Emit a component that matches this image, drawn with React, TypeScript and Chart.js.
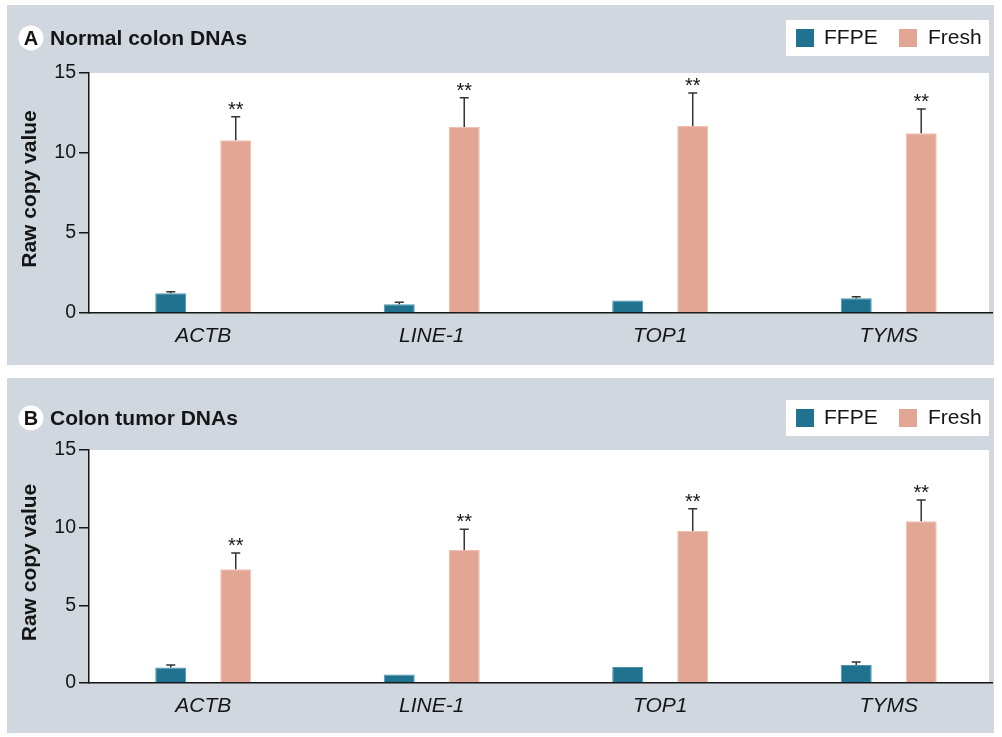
import React, { useEffect, useRef } from "react";
import { Chart, registerables } from "chart.js";

Chart.register(...registerables);

// ---- data ----
const categories = ["ACTB", "LINE-1", "TOP1", "TYMS"];
const seriesNames = ["FFPE", "Fresh"];
const yTickValues = [0, 5, 10, 15];
const significance = ["**", "**", "**", "**"];

const normalFFPE = [1.23, 0.54, 0.78, 0.92];
const normalFFPEErr = [0.1, 0.13, 0, 0.1];
const normalFresh = [10.8, 11.63, 11.69, 11.23];
const normalFreshErr = [1.47, 1.83, 2.06, 1.52];

const tumorFFPE = [0.99, 0.54, 1.03, 1.16];
const tumorFFPEErr = [0.17, 0, 0, 0.19];
const tumorFresh = [7.32, 8.56, 9.79, 10.41];
const tumorFreshErr = [1.05, 1.34, 1.43, 1.37];

// ---- styles ----
const COLORS = ["#1f7391", "#e3a694"];
const BORDERS = ["#4f93ad", "#efbfb1"];
const PANEL_BG = "#d0d7df";
const INK = "#151515";
const FONT = "'Liberation Sans', Arial, Helvetica, sans-serif";

type PanelProps = {
  top: number;
  height: number;
  letter: string;
  title: string;
  ffpe: number[];
  ffpeErr: number[];
  fresh: number[];
  freshErr: number[];
  panelTop: number;
  panelBottom: number;
  plotTop: number;
  plotBottom: number;
  titleY: number;
  legendY: number;
};

function Panel(p: PanelProps) {
  const ref = useRef<HTMLCanvasElement | null>(null);

  useEffect(() => {
    const canvas = ref.current;
    if (!canvas) return;
    const errs = [p.ffpeErr, p.freshErr];

    const decor = {
      id: "decor",
      beforeDraw(chart: any) {
        const ctx = chart.ctx;
        const a = chart.chartArea;
        ctx.save();
        ctx.fillStyle = PANEL_BG;
        ctx.fillRect(7, p.panelTop, 987, p.panelBottom - p.panelTop);
        ctx.fillStyle = "#ffffff";
        ctx.fillRect(a.left, a.top, a.right - 3 - a.left, a.bottom - a.top);
        ctx.restore();
      },
      afterDatasetsDraw(chart: any) {
        const ctx = chart.ctx;
        const yScale = chart.scales.y;
        ctx.save();
        chart.data.datasets.forEach((ds: any, di: number) => {
          const meta = chart.getDatasetMeta(di);
          meta.data.forEach((bar: any, i: number) => {
            const v = ds.data[i].y;
            const e = errs[di][i];
            const yTop = yScale.getPixelForValue(v + e);
            if (e > 0) {
              ctx.strokeStyle = "#333333";
              ctx.lineWidth = 1.5;
              ctx.beginPath();
              ctx.moveTo(bar.x, bar.y);
              ctx.lineTo(bar.x, yTop);
              ctx.moveTo(bar.x - 4.5, yTop);
              ctx.lineTo(bar.x + 4.5, yTop);
              ctx.stroke();
            }
            if (di === 1 && significance[i]) {
              ctx.fillStyle = INK;
              ctx.font = `20px ${FONT}`;
              ctx.textAlign = "center";
              ctx.textBaseline = "alphabetic";
              ctx.fillText(significance[i], bar.x, yTop - 1);
            }
          });
        });
        ctx.restore();
      },
      afterDraw(chart: any) {
        const ctx = chart.ctx;
        const a = chart.chartArea;
        ctx.save();
        // title with circled letter
        ctx.fillStyle = "#ffffff";
        ctx.beginPath();
        ctx.arc(31, p.titleY, 12.5, 0, Math.PI * 2);
        ctx.fill();
        ctx.fillStyle = INK;
        ctx.font = `bold 20px ${FONT}`;
        ctx.textAlign = "center";
        ctx.textBaseline = "middle";
        ctx.fillText(p.letter, 31, p.titleY + 1);
        ctx.font = `bold 21px ${FONT}`;
        ctx.textAlign = "left";
        ctx.textBaseline = "alphabetic";
        ctx.fillText(p.title, 50, p.titleY + 7);

        // y axis title
        ctx.save();
        ctx.translate(30, (a.top + a.bottom) / 2 - 4);
        ctx.rotate(-Math.PI / 2);
        ctx.textAlign = "center";
        ctx.textBaseline = "middle";
        ctx.font = `bold 21px ${FONT}`;
        ctx.fillText("Raw copy value", 0, 0);
        ctx.restore();

        // legend
        const ly = p.legendY;
        ctx.fillStyle = "#ffffff";
        ctx.fillRect(786, ly, 203, 36);
        const swX = [796, 899];
        const txX = [824, 928];
        ctx.font = `21px ${FONT}`;
        ctx.textBaseline = "middle";
        ctx.textAlign = "left";
        seriesNames.forEach((n, i) => {
          ctx.fillStyle = COLORS[i];
          ctx.fillRect(swX[i], ly + 9, 18, 18);
          ctx.fillStyle = INK;
          ctx.fillText(n, txX[i], ly + 18.5);
        });
        ctx.restore();
      },
    };

    const toPts = (arr: number[]) => arr.map((v, i) => ({ x: i, y: v }));

    const chart = new Chart(canvas, {
      type: "bar",
      data: {
        datasets: [
          {
            label: seriesNames[0],
            data: toPts(p.ffpe),
            backgroundColor: COLORS[0],
            borderColor: BORDERS[0],
            borderWidth: 1,
            categoryPercentage: 0.569,
            barPercentage: 0.477,
          } as any,
          {
            label: seriesNames[1],
            data: toPts(p.fresh),
            backgroundColor: COLORS[1],
            borderColor: BORDERS[1],
            borderWidth: 1,
            categoryPercentage: 0.569,
            barPercentage: 0.477,
          } as any,
        ],
      },
      options: {
        animation: false,
        responsive: false,
        maintainAspectRatio: false,
        layout: { padding: { top: p.plotTop, right: 10, bottom: 0, left: 0 } },
        plugins: { legend: { display: false }, tooltip: { enabled: false }, title: { display: false } },
        scales: {
          x: {
            type: "linear",
            offset: false,
            min: -0.5,
            max: 3.452,
            grid: { display: false, drawTicks: false, offset: false },
            border: { display: true, color: INK, width: 1.5 },
            afterBuildTicks: (s: any) => {
              s.ticks = categories.map((_, i) => ({ value: i }));
            },
            afterFit: (s: any) => {
              s.height = p.height - p.plotBottom;
            },
            ticks: {
              autoSkip: false,
              maxRotation: 0,
              padding: 11,
              color: INK,
              font: { family: FONT, size: 21, style: "italic" },
              callback: (v: any) => categories[Math.round(Number(v))] ?? "",
            },
          },
          y: {
            min: 0,
            max: 15,
            grid: { display: true, drawOnChartArea: false, drawTicks: true, tickLength: 10, color: INK, lineWidth: 1.5 },
            border: { display: true, color: INK, width: 1.5 },
            afterBuildTicks: (s: any) => {
              s.ticks = yTickValues.map((v) => ({ value: v }));
            },
            afterFit: (s: any) => {
              s.width = 89;
            },
            ticks: {
              padding: 3,
              color: INK,
              font: { family: FONT, size: 19.5 },
            },
          },
        },
      } as any,
      plugins: [decor],
    });

    return () => chart.destroy();
  }, []);

  return (
    <canvas
      ref={ref}
      width={1002}
      height={p.height}
      style={{ position: "absolute", left: 0, top: p.top, width: 1002, height: p.height }}
    />
  );
}

export default function App() {
  return (
    <div style={{ position: "absolute", left: 0, top: 0, width: 1002, height: 737, background: "#ffffff", overflow: "hidden" }}>
      <Panel
        top={0}
        height={370}
        letter="A"
        title="Normal colon DNAs"
        ffpe={normalFFPE}
        ffpeErr={normalFFPEErr}
        fresh={normalFresh}
        freshErr={normalFreshErr}
        panelTop={5}
        panelBottom={365}
        plotTop={73}
        plotBottom={313}
        titleY={38}
        legendY={20}
      />
      <Panel
        top={370}
        height={367}
        letter="B"
        title="Colon tumor DNAs"
        ffpe={tumorFFPE}
        ffpeErr={tumorFFPEErr}
        fresh={tumorFresh}
        freshErr={tumorFreshErr}
        panelTop={8}
        panelBottom={363}
        plotTop={80}
        plotBottom={313}
        titleY={48}
        legendY={30}
      />
    </div>
  );
}
